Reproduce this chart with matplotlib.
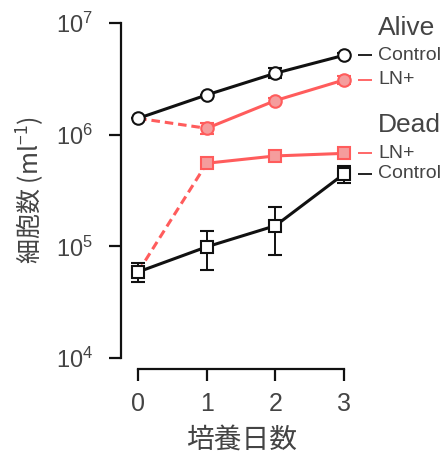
import matplotlib
matplotlib.use("Agg")
import matplotlib.pyplot as plt
import numpy as np
from matplotlib.ticker import FixedLocator, NullLocator

plt.rcParams['font.family'] = ['Liberation Sans', 'Noto Sans CJK JP', 'DejaVu Sans']
plt.rcParams['mathtext.fontset'] = 'custom'
plt.rcParams['mathtext.rm'] = 'Liberation Sans'
plt.rcParams['mathtext.default'] = 'regular'

# Culture days
days = [0, 1, 2, 3]

# Live cells (per ml)
alive_ctrl = [1.40e6, 2.27e6, 3.55e6, 5.14e6]
alive_ctrl_lo = [1.40e6, 2.27e6, 3.20e6, 4.95e6]
alive_ctrl_hi = [1.40e6, 2.27e6, 3.95e6, 5.35e6]

alive_ln = [1.14e6, 2.02e6, 3.09e6]          # days 1-3
alive_ln_lo = [1.01e6, 1.92e6, 2.85e6]
alive_ln_hi = [1.27e6, 2.13e6, 3.35e6]

# Dead cells (per ml)
dead_ctrl = [5.9e4, 9.9e4, 1.53e5, 4.45e5]
dead_ctrl_lo = [4.75e4, 6.15e4, 8.4e4, 3.7e5]
dead_ctrl_hi = [7.1e4, 1.37e5, 2.24e5, 5.25e5]

dead_ln = [5.55e5, 6.45e5, 6.8e5]            # days 1-3
dead_ln_lo = [5.0e5, 5.9e5, 6.2e5]
dead_ln_hi = [6.1e5, 7.1e5, 7.4e5]

xticks = [0, 1, 2, 3]
yticks = [1e4, 1e5, 1e6, 1e7]

BLACK = '#111111'
RED = '#ff5c5c'
PINK = '#f59d9d'
TXT = '#444444'
CJK = ['Noto Sans CJK JP', 'Liberation Sans']

fig = plt.figure(figsize=(4.46, 4.55), dpi=100)
ax = fig.add_axes([121 / 446, (455 - 358) / 455, (344 - 121) / 446, (358 - 23) / 455])
ax.set_yscale('log')
ax.set_xlim(-0.25, 3)
ax.set_ylim(1e4, 1e7)


def err(v, lo, hi):
    v = np.asarray(v)
    return [v - np.asarray(lo), np.asarray(hi) - v]


lw = 2.2
dash = (0, (2.8, 1.6))
# dashed connectors from day 0 to the LN+ day-1 point
ax.plot([days[0], days[1]], [alive_ctrl[0], alive_ln[0]], ls=dash,
        color=RED, lw=lw, zorder=2, clip_on=False)
ax.plot([days[0], days[1]], [dead_ctrl[0], dead_ln[0]], ls=dash,
        color=RED, lw=lw, zorder=2, clip_on=False)

common = dict(lw=lw, mew=1.5, elinewidth=1.4, capsize=5, capthick=1.4, clip_on=False)

# LN+ series
ax.errorbar(days[1:], alive_ln, yerr=err(alive_ln, alive_ln_lo, alive_ln_hi),
            color=RED, marker='o', ms=9, mfc=PINK, mec=RED, ecolor=RED,
            zorder=3, **common)
ax.errorbar(days[1:], dead_ln, yerr=err(dead_ln, dead_ln_lo, dead_ln_hi),
            color=RED, marker='s', ms=8, mfc=PINK, mec=RED, ecolor=RED,
            zorder=3, **common)

# Control series
ax.errorbar(days, alive_ctrl, yerr=err(alive_ctrl, alive_ctrl_lo, alive_ctrl_hi),
            color=BLACK, marker='o', ms=9, mfc='white', mec=BLACK, ecolor=BLACK,
            zorder=4, **common)
ax.errorbar(days, dead_ctrl, yerr=err(dead_ctrl, dead_ctrl_lo, dead_ctrl_hi),
            color=BLACK, marker='s', ms=8, mfc='white', mec=BLACK, ecolor=BLACK,
            zorder=4, **common)

# axes styling
for s in ['top', 'right']:
    ax.spines[s].set_visible(False)
for s in ['left', 'bottom']:
    ax.spines[s].set_linewidth(1.6)
    ax.spines[s].set_color(BLACK)
ax.spines['bottom'].set_position(('outward', 8))
ax.spines['bottom'].set_bounds(0, 3)

ax.xaxis.set_major_locator(FixedLocator(xticks))
ax.set_xticklabels([str(t) for t in xticks])
ax.yaxis.set_major_locator(FixedLocator(yticks))
ax.yaxis.set_minor_locator(NullLocator())
ax.set_yticklabels([r'$10^{%d}$' % int(np.log10(t)) for t in yticks])

ax.tick_params(axis='y', length=9, width=1.6, pad=11, labelsize=17, labelcolor=TXT, color=BLACK)
ax.tick_params(axis='x', length=8.5, width=1.6, pad=8, labelsize=18, labelcolor=TXT, color=BLACK)

ax.set_ylabel('細胞数 (ml$^{-1}$)', fontsize=18, color=TXT, family=CJK)
ax.set_xlabel('培養日数', fontsize=20, color=TXT, family=CJK)
ax.yaxis.label.set_va('center')
ax.xaxis.label.set_va('center')
ax.yaxis.set_label_coords(-0.404, 0.5)
ax.xaxis.set_label_coords(0.54, -0.245)

# right-hand group headings
ax.text(1.152, 0.985, 'Alive', transform=ax.transAxes, fontsize=19, color=TXT,
        ha='left', va='center')
ax.text(1.152, 0.6955, 'Dead', transform=ax.transAxes, fontsize=19, color=TXT,
        ha='left', va='center')

# series keys aligned with each series' last point
keys = [(alive_ctrl[-1], 'Control', BLACK),
        (alive_ln[-1], 'LN+', RED),
        (dead_ln[-1], 'LN+', RED),
        (dead_ctrl[-1], 'Control', BLACK)]
ytr = ax.get_yaxis_transform()
for yv, txt, col in keys:
    ax.plot([1.063, 1.126], [yv, yv], color=col, lw=1.3, transform=ytr,
            clip_on=False, solid_capstyle='butt')
    ax.text(1.152, yv, txt, transform=ytr, fontsize=14, color=TXT,
            ha='left', va='center')

fig.savefig('out.png', dpi=100)
